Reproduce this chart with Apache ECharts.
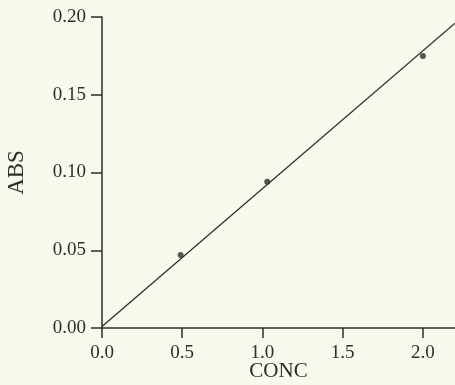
<!DOCTYPE html>
<html>
<head>
<meta charset="utf-8">
<script src="https://cdn.jsdelivr.net/npm/echarts@6/dist/echarts.min.js"></script>
<style>
    html, body {margin: 0; padding: 0; background: #f9f8ec;}
    #chart {width: 455px; height: 385px;}
</style>
</head>
<body>
<div id="chart"></div>
<script>
// measured points (CONC vs ABS)
const concData = [0.49, 1.03, 2.0];
const absData = [0.047, 0.094, 0.175];
// fitted calibration line, drawn across the whole x range
const fitConc = [0, 2.2];
const fitAbs = [0.001, 0.196];
const xTicks = [0, 0.5, 1.0, 1.5, 2.0];
const yTicks = [0, 0.05, 0.10, 0.15, 0.20];

const inkColor = '#2e2e2a';
const myChart = echarts.init(document.getElementById('chart'));

const axisCommon = {
    axisLine: {show: true, lineStyle: {color: inkColor, width: 1.5}},
    splitLine: {show: false},
};

const option = {
    animation: false,
    backgroundColor: '#f9f8ec',
    grid: {left: 102, right: 0, top: 17, bottom: 57, containLabel: false, outerBoundsMode: 'none'},
    xAxis: Object.assign({}, axisCommon, {
        type: 'value',
        min: 0,
        max: 2.2,
        name: 'CONC',
        nameLocation: 'middle',
        nameGap: 33,
        nameMoveOverlap: false,
        nameTextStyle: {fontFamily: 'Liberation Serif', fontSize: 21, color: inkColor},
        axisTick: {show: true, inside: false, length: 10, customValues: xTicks, lineStyle: {color: inkColor, width: 1.5}},
        axisLabel: {
            customValues: xTicks,
            margin: 16,
            fontFamily: 'Liberation Serif',
            fontSize: 19,
            color: inkColor,
            formatter: (v) => v.toFixed(1),
        },
    }),
    yAxis: Object.assign({}, axisCommon, {
        type: 'value',
        min: 0,
        max: 0.2,
        name: 'ABS',
        nameLocation: 'middle',
        nameGap: 74,
        nameMoveOverlap: false,
        nameRotate: 90,
        nameTextStyle: {fontFamily: 'Liberation Serif', fontSize: 23, color: inkColor},
        axisTick: {show: true, inside: false, length: 11, customValues: yTicks, lineStyle: {color: inkColor, width: 1.5}},
        axisLabel: {
            customValues: yTicks,
            margin: 16,
            fontFamily: 'Liberation Serif',
            fontSize: 19,
            color: inkColor,
            formatter: (v) => v.toFixed(2),
        },
    }),
    series: [
        {
            name: 'fit',
            type: 'line',
            data: fitConc.map((c, i) => [c, fitAbs[i]]),
            showSymbol: false,
            lineStyle: {color: inkColor, width: 1.3},
            z: 2,
        },
        {
            name: 'points',
            type: 'scatter',
            data: concData.map((c, i) => [c, absData[i]]),
            symbolSize: 6,
            itemStyle: {color: inkColor},
            z: 3,
        },
    ],
};
myChart.setOption(option);
</script>
</body>
</html>
